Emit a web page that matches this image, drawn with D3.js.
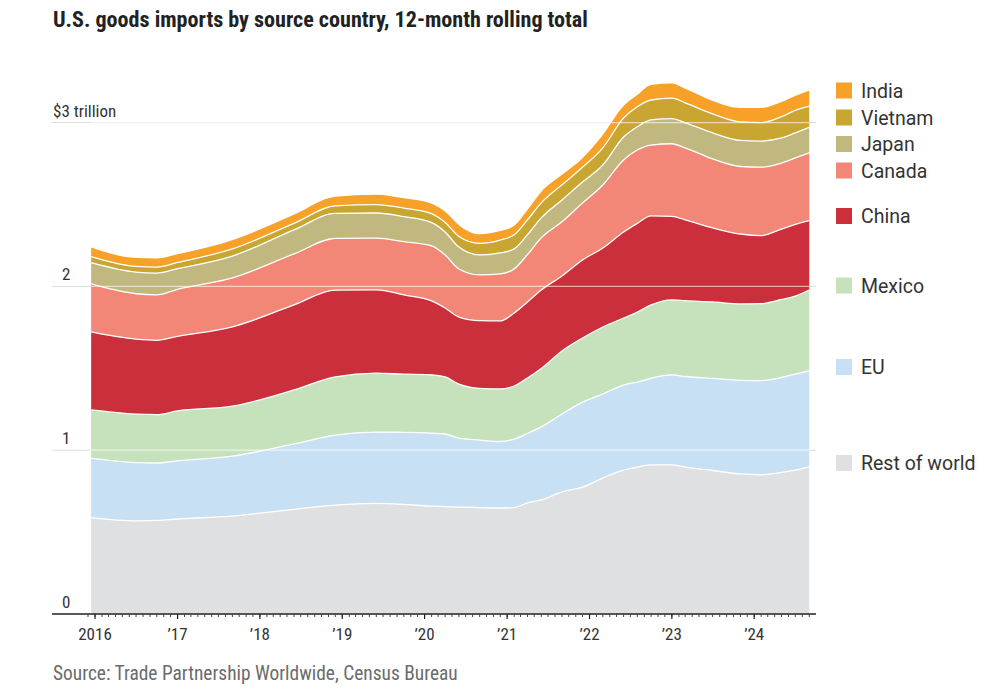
<!DOCTYPE html>
<html><head><meta charset="utf-8">
<script src="https://cdn.jsdelivr.net/npm/d3@7"></script>
<style>
html,body{margin:0;padding:0;background:#fff;}
svg{display:block;}
</style></head>
<body>
<svg id="chart" width="998" height="699"></svg>
<script>
// ---- data (US$ billions, 12-month rolling total) ----
const dates = ["2015-12-15","2016-07-01","2016-10-01","2017-01-01","2017-09-01","2018-06-01","2018-12-01","2019-06-01","2019-10-01","2020-02-01","2020-04-01","2020-06-01","2020-09-01","2020-12-01","2021-02-01","2021-04-01","2021-06-01","2021-09-01","2021-12-01","2022-03-01","2022-06-01","2022-08-01","2022-10-01","2023-01-01","2023-03-01","2023-07-01","2023-11-01","2024-02-01","2024-05-01","2024-07-01","2024-09-01"];
const restOfWorld = [588,568,571,580,598,639,665,675,669,658,656,653,650,647,650,678,696,745,775,830,879,897,910,910,897,876,855,850,864,879,899];
const eu          = [363,356,351,355,366,399,427,435,440,446,443,421,412,406,418,424,446,476,519,513,519,519,529,550,553,562,571,575,580,586,586];
const mexico      = [295,296,295,305,305,330,356,360,355,356,348,330,316,321,324,339,357,385,391,409,409,427,448,458,463,467,467,470,476,476,493];
const china       = [476,458,454,455,484,519,529,509,484,452,421,409,413,415,446,464,479,458,476,482,525,542,543,510,493,452,427,415,430,437,423];
const canada      = [293,277,277,287,299,311,316,316,325,336,324,293,279,287,269,289,318,330,348,385,440,448,433,443,440,421,412,418,403,406,415];
const japan       = [130,132,133,126,133,147,153,153,153,141,140,134,122,128,122,122,122,134,128,122,140,142,153,153,153,159,159,159,153,153,155];
const vietnam     = [37,35,37,38,44,40,46,51,52,55,58,65,71,79,86,90,92,92,90,105,116,122,122,125,122,116,113,113,130,138,130];
const india       = [55,51,52,50,53,52,55,61,60,61,66,69,55,55,55,61,67,61,56,78,73,71,92,89,85,79,85,89,90,88,93];

const seriesNames = ["Rest of world","EU","Mexico","China","Canada","Japan","Vietnam","India"];
const seriesValues = [restOfWorld, eu, mexico, china, canada, japan, vietnam, india];
const seriesColors = ["#dfe0e2","#c8e0f4","#c5e2bc","#cb2f3b","#f28777","#c1b880","#c8a631","#f7a128"];
const yTicks = [0,1000,2000,3000];
const yTickLabels = ["0","1","2","$3 trillion"];
const xTickYears = [2016,2017,2018,2019,2020,2021,2022,2023,2024];
const xTickLabels = ["2016","\u201917","\u201918","\u201919","\u201920","\u201921","\u201922","\u201923","\u201924"];
const title = "U.S. goods imports by source country, 12-month rolling total";
const source = "Source: Trade Partnership Worldwide, Census Bureau";

// ---- build table ----
const parse = d3.timeParse("%Y-%m-%d");
const table = dates.map((d,i)=>{
  const row = {date: parse(d)};
  seriesNames.forEach((n,k)=>{ row[n] = seriesValues[k][i]; });
  return row;
});

const svg = d3.select("#chart");
const x = d3.scaleTime().domain([new Date(2016,0,1), new Date(2024,0,1)]).range([95, 754.2]);
const y = d3.scaleLinear().domain([0,3000]).range([614, 122.6]);
const axisLeft = 52, axisRight = 816;

const stack = d3.stack().keys(seriesNames);
const layers = stack(table);

const condensed = "'Liberation Sans Narrow','Arial Narrow','Roboto Condensed',sans-serif";

// title
svg.append("text").attr("x",53).attr("y",27)
  .attr("font-family",condensed).attr("font-weight","bold").attr("font-size",22.1)
  .attr("fill","#222").text(title);

// gridlines under
const grid = svg.append("g");
yTicks.filter(t=>t>0).forEach(t=>{
  grid.append("line").attr("x1",axisLeft).attr("x2",axisRight)
    .attr("y1",y(t)).attr("y2",y(t)).attr("stroke","#dcdcdc").attr("stroke-width",1);
});

// areas
const area = d3.area().x(d=>x(d.data.date)).y0(d=>y(d[0])).y1(d=>y(d[1])).curve(d3.curveMonotoneX);
svg.append("g").selectAll("path").data(layers).join("path")
  .attr("d",area).attr("fill",(d,i)=>seriesColors[i]);

// separator lines
const line = d3.line().x(d=>x(d.data.date)).y(d=>y(d[1])).curve(d3.curveMonotoneX);
svg.append("g").selectAll("path").data(layers.slice(0,-1)).join("path")
  .attr("d",line).attr("fill","none").attr("stroke","#fff").attr("stroke-width",1.3);

// gridlines over (translucent)
yTicks.filter(t=>t>0).forEach(t=>{
  svg.append("line").attr("x1",x(table[0].date)).attr("x2",x(table[table.length-1].date))
    .attr("y1",y(t)).attr("y2",y(t)).attr("stroke","#fff").attr("stroke-opacity",0.6).attr("stroke-width",1.3);
});

// y labels
yTicks.forEach((t,i)=>{
  svg.append("text").attr("x", i===3 ? 53 : 62).attr("y", y(t)-6)
    .attr("font-family",condensed).attr("font-size",17).attr("fill","#333")
    .text(yTickLabels[i]);
});

// x axis
const ax = svg.append("g");
ax.append("line").attr("x1",axisLeft).attr("x2",axisRight).attr("y1",614).attr("y2",614)
  .attr("stroke","#222").attr("stroke-width",1.3);
const months = d3.timeMonth.range(new Date(2015,11,1), new Date(2024,8,2));
ax.selectAll("line.minor").data(months).join("line").attr("class","minor")
  .attr("x1",d=>x(d)).attr("x2",d=>x(d)).attr("y1",614).attr("y2",617)
  .attr("stroke","#444").attr("stroke-width",1);
xTickYears.forEach((yr,i)=>{
  const xx = x(new Date(yr,0,1));
  ax.append("line").attr("x1",xx).attr("x2",xx).attr("y1",614).attr("y2",619)
    .attr("stroke","#222").attr("stroke-width",1.2);
  ax.append("text").attr("x",xx).attr("y",640).attr("text-anchor","middle")
    .attr("font-family",condensed).attr("font-size",17).attr("fill","#333").text(xTickLabels[i]);
});

// legend
const legendY = {"India":90.5,"Vietnam":117.5,"Japan":144,"Canada":170.5,"China":216,"Mexico":285.5,"EU":367,"Rest of world":463};
const lg = svg.append("g");
seriesNames.forEach((n,i)=>{
  const cy = legendY[n];
  lg.append("rect").attr("x",836).attr("y",cy-8).attr("width",16).attr("height",16).attr("fill",seriesColors[i]);
  lg.append("text").attr("x",861).attr("y",cy+7).attr("font-family","Roboto, sans-serif")
    .attr("font-size",19.5).attr("fill","#333").text(n);
});

// source
svg.append("text").attr("x",53).attr("y",680).attr("font-family",condensed)
  .attr("font-size",19.4).attr("fill","#6b6b6b").text(source);
</script>
</body></html>
